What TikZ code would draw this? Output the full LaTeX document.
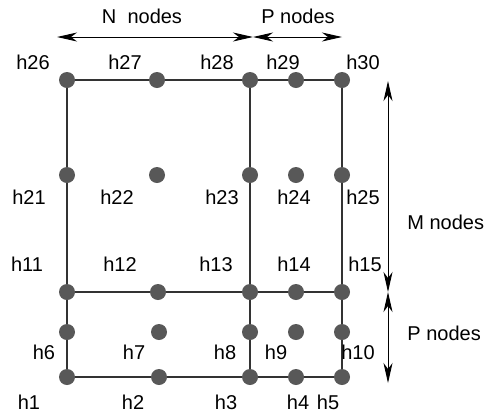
\documentclass[tikz,border=0pt]{standalone}
\usepackage{fontspec}
\setmainfont{Liberation Sans}
\usetikzlibrary{arrows.meta,positioning,backgrounds}
\definecolor{dotgray}{HTML}{585858}
\definecolor{wiregray}{HTML}{333333}

\begin{document}
\begin{tikzpicture}[x=0.5pt,y=-0.5pt,font=\fontsize{10}{12}\selectfont,
  dot/.style={circle,fill=dotgray,inner sep=0pt,minimum size=8pt},
  wire/.style={wiregray,line width=1pt},
  span/.style={{Stealth[length=10pt,width=4.5pt,inset=3pt]}-{Stealth[length=10pt,width=4.5pt,inset=3pt]},line width=0.5pt}]
  \useasboundingbox (0,0) rectangle (486,414);
  % grid points
  \foreach \n/\x/\y in {26/67/80, 27/157/80, 28/250/80, 29/296/80, 30/342/80,
      21/67/175, 22/157/175, 23/250/175, 24/296/175, 25/342/175,
      11/67/292, 12/158/292, 13/250/292, 14/296/292, 15/342/292,
      6/67/332, 7/159/332, 8/250/332, 9/296/332, 10/342/332,
      1/67/377, 2/159/377, 3/250/377, 4/296/377, 5/342/377}
    \node[dot] (h\n) at (\x,\y) {};
  % point labels
  \foreach \n/\x/\y in {26/33/62, 27/125/62, 28/217/62, 29/283/62, 30/363/62,
      21/29/197, 22/117/197, 23/222/197, 24/294/197, 25/363/197,
      11/27/264, 12/120/264, 13/216/264, 14/294/264, 15/365/264,
      6/44/352, 7/134/352, 8/225/352, 9/276/352, 10/358/352,
      1/29/402, 2/133/402, 3/226/402, 4/298/402, 5/328/402}
    \node (t\n) at (\x,\y) {h\n};
  % mesh lines
  \begin{scope}[on background layer]
    \draw[wire] (h26) -- (h30) (h11) -- (h15) (h1) -- (h5);
    \draw[wire] (h26) -- (h1) (h28) -- (h3) (h30) -- (h5);
  \end{scope}
  % extents
  \coordinate (nl) at (57,37);
  \coordinate (nr) at (253,37);
  \coordinate (pr) at (342,37);
  \coordinate (mt) at (388,81);
  \coordinate (mb) at (388,292);
  \coordinate (pb) at (388,383);
  \draw[span] (nl) -- (nr);
  \draw[span] (nr) -- (pr);
  \draw[span] (mt) -- (mb);
  \draw[span] (mb) -- (pb);
  \node (nlab) at (142,16) {N\ \ nodes};
  \node (plab) at (298,16) {P nodes};
  \node[anchor=west,inner sep=0pt] (mlab) at (407,222) {M nodes};
  \node[anchor=west,inner sep=0pt] (qlab) at (407,333) {P nodes};
\end{tikzpicture}
\end{document}
